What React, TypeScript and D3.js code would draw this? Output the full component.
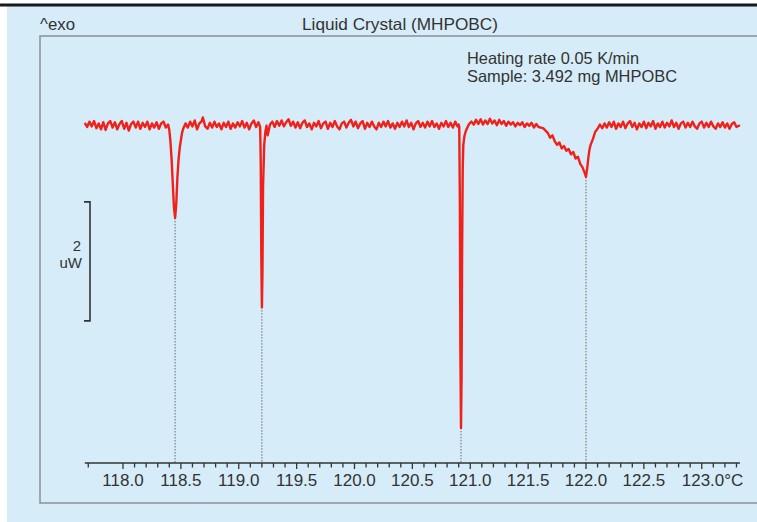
import React from "react";
import * as d3 from "d3";

const temps: number[] = [
  117.67, 117.69, 117.71, 117.73, 117.75, 117.77, 117.79, 117.81, 117.83, 117.85, 117.87, 117.89, 117.91, 117.93, 117.95, 117.97, 117.99,
  118.01, 118.03, 118.05, 118.07, 118.09, 118.11, 118.13, 118.15, 118.17, 118.19, 118.21, 118.23, 118.25, 118.27, 118.29, 118.31, 118.33,
  118.35, 118.37, 118.39, 118.40, 118.41, 118.42, 118.43, 118.44, 118.45, 118.46, 118.47, 118.48, 118.49, 118.50, 118.51, 118.52, 118.54,
  118.56, 118.58, 118.60, 118.62, 118.64, 118.66, 118.68, 118.69, 118.71, 118.73, 118.75, 118.77, 118.79, 118.81, 118.83, 118.85, 118.87,
  118.89, 118.91, 118.93, 118.95, 118.97, 118.99, 119.01, 119.03, 119.05, 119.07, 119.09, 119.11, 119.13, 119.15, 119.17, 119.185, 119.19,
  119.195, 119.20, 119.205, 119.21, 119.22, 119.23, 119.24, 119.25, 119.26, 119.27, 119.29, 119.31, 119.33, 119.35, 119.37, 119.39, 119.41,
  119.43, 119.45, 119.47, 119.49, 119.51, 119.53, 119.55, 119.57, 119.59, 119.61, 119.63, 119.65, 119.67, 119.69, 119.71, 119.73, 119.75,
  119.77, 119.79, 119.81, 119.83, 119.85, 119.87, 119.89, 119.91, 119.93, 119.95, 119.97, 119.99, 120.01, 120.03, 120.05, 120.07, 120.09,
  120.11, 120.13, 120.15, 120.17, 120.19, 120.21, 120.23, 120.25, 120.27, 120.29, 120.31, 120.33, 120.35, 120.37, 120.39, 120.41, 120.43,
  120.45, 120.47, 120.49, 120.51, 120.53, 120.55, 120.57, 120.59, 120.61, 120.63, 120.65, 120.67, 120.69, 120.71, 120.73, 120.75, 120.77,
  120.79, 120.81, 120.83, 120.85, 120.87, 120.89, 120.90, 120.905, 120.91, 120.915, 120.92, 120.925, 120.93, 120.935, 120.94, 120.95,
  120.96, 120.97, 120.99, 121.01, 121.03, 121.05, 121.07, 121.09, 121.11, 121.13, 121.15, 121.17, 121.19, 121.21, 121.23, 121.25, 121.27,
  121.29, 121.31, 121.33, 121.35, 121.37, 121.39, 121.41, 121.43, 121.45, 121.47, 121.49, 121.51, 121.53, 121.55, 121.57, 121.59, 121.61,
  121.63, 121.65, 121.67, 121.69, 121.71, 121.73, 121.75, 121.77, 121.79, 121.81, 121.83, 121.85, 121.87, 121.89, 121.91, 121.93, 121.95,
  121.97, 121.99, 122.00, 122.01, 122.02, 122.03, 122.04, 122.06, 122.08, 122.10, 122.12, 122.14, 122.16, 122.18, 122.20, 122.22, 122.24,
  122.26, 122.28, 122.30, 122.32, 122.34, 122.36, 122.38, 122.40, 122.42, 122.44, 122.46, 122.48, 122.50, 122.52, 122.54, 122.56, 122.58,
  122.60, 122.62, 122.64, 122.66, 122.68, 122.70, 122.72, 122.74, 122.76, 122.78, 122.80, 122.82, 122.84, 122.86, 122.88, 122.90, 122.92,
  122.94, 122.96, 122.98, 123.00, 123.02, 123.04, 123.06, 123.08, 123.10, 123.12, 123.14, 123.16, 123.18, 123.20, 123.22, 123.24, 123.26,
  123.28, 123.30, 123.33,
];

const heatFlow: number[] = [
  0.07, 0.00, 0.09, 0.01, 0.10, -0.02, 0.06, -0.04, 0.08, -0.05, 0.06, 0.10, -0.01, 0.08, -0.04, 0.05, 0.10,
  -0.03, 0.07, -0.06, 0.05, 0.09, -0.01, 0.09, -0.03, 0.07, 0.00, 0.09, -0.04, 0.06, -0.01, 0.08, -0.03, 0.06,
  0.09, -0.01, 0.04, -0.05, -0.25, -0.55, -0.95, -1.35, -1.53, -1.30, -0.85, -0.55, -0.35, -0.22, -0.10, -0.03, 0.06,
  -0.01, 0.09, 0.01, 0.11, -0.04, 0.06, 0.10, 0.16, 0.01, -0.03, 0.07, -0.01, 0.09, 0.00, 0.06, -0.04, 0.07,
  0.00, 0.09, -0.03, 0.06, -0.01, 0.08, 0.01, 0.10, -0.01, 0.07, -0.04, 0.06, 0.11, 0.00, 0.08, 0.00, -0.60,
  -2.20, -3.03, -2.40, -1.00, -0.30, -0.08, 0.02, -0.14, -0.05, 0.04, 0.09, 0.00, 0.10, 0.02, 0.11, 0.01, 0.08,
  0.13, 0.02, 0.09, -0.01, 0.08, -0.02, 0.07, 0.11, 0.00, 0.06, -0.04, 0.07, 0.01, 0.10, -0.02, 0.06, 0.09,
  -0.03, 0.07, 0.00, 0.10, 0.01, -0.04, 0.06, 0.09, -0.01, 0.07, 0.12, 0.01, 0.09, -0.02, 0.06, 0.10, -0.03,
  0.07, 0.00, 0.09, 0.01, -0.04, 0.07, 0.00, 0.09, 0.01, 0.10, -0.01, 0.06, -0.03, 0.07, 0.00, 0.09, 0.01,
  0.11, 0.00, 0.07, -0.04, 0.06, 0.10, 0.00, 0.07, -0.01, 0.09, 0.01, 0.10, 0.00, 0.06, -0.03, 0.07, 0.01,
  0.10, 0.00, 0.07, -0.01, 0.09, 0.01, 0.04, 0.00, -1.20, -3.80, -5.06, -4.20, -2.00, -0.70, -0.30, -0.15,
  -0.08, -0.03, 0.05, 0.09, 0.04, 0.12, 0.05, 0.13, 0.04, 0.11, 0.05, 0.14, 0.06, 0.11, 0.03, 0.12, 0.05,
  0.10, 0.02, 0.09, 0.04, 0.08, 0.01, 0.07, 0.03, 0.08, 0.00, 0.06, 0.02, 0.07, -0.01, 0.05, 0.00, -0.01,
  -0.02, -0.06, -0.10, -0.18, -0.14, -0.24, -0.30, -0.26, -0.36, -0.32, -0.40, -0.37, -0.46, -0.42, -0.53, -0.50, -0.62,
  -0.68, -0.78, -0.84, -0.70, -0.52, -0.38, -0.30, -0.20, -0.08, -0.03, 0.04, -0.02, 0.06, -0.01, 0.08, 0.00, 0.09,
  -0.03, 0.06, 0.00, 0.09, -0.02, 0.06, 0.10, 0.00, 0.07, -0.04, 0.06, 0.00, 0.09, -0.02, 0.07, 0.01, 0.10,
  -0.03, 0.06, 0.00, 0.09, -0.01, 0.07, 0.01, 0.11, 0.00, 0.07, -0.03, 0.06, 0.09, -0.01, 0.07, 0.00, 0.09,
  0.01, -0.03, 0.06, 0.09, -0.01, 0.07, 0.00, 0.09, 0.01, -0.03, 0.06, 0.00, 0.08, -0.01, 0.06, -0.03, 0.05,
  0.08, 0.00, 0.03,
];

// peak minima marked with dotted drop lines
const peakTemps: number[] = [118.45, 119.2, 120.92, 122.0];
const peakFlows: number[] = [-1.53, -3.03, -5.06, -0.84];

const tickLabels: number[] = [118.0, 118.5, 119.0, 119.5, 120.0, 120.5, 121.0, 121.5, 122.0, 122.5, 123.0];

const titleText = "Liquid Crystal (MHPOBC)";
const infoLines: string[] = ["Heating rate 0.05 K/min", "Sample: 3.492 mg MHPOBC"];
const scaleBarValue = 2; // uW
const scaleBarTop = -1.26; // uW, position of the scale bar

const W = 757;
const H = 522;
const FONT = "'Liberation Sans', Arial, Helvetica, sans-serif";
const TEXT = "#333";

export default function App() {
  const x = d3.scaleLinear().domain([118.0, 123.0]).range([123, 701.75]);
  const y = d3.scaleLinear().domain([-5.65, 1.53]).range([463, 36]);
  const axisStart = 117.67;
  const axisEnd = 123.33;

  const pts = temps.map((t, i) => [t, heatFlow[i]] as [number, number]);
  const line = d3
    .line<[number, number]>()
    .x((d) => x(d[0]))
    .y((d) => y(d[1]));

  const minorTicks = d3.range(118, 123.31, 0.1).map((v) => Math.round(v * 10) / 10);
  const extraTicks = [117.7];
  const allTicks = [...extraTicks, ...minorTicks];

  const axisY = 463;

  return (
    <svg
      width={W}
      height={H}
      style={{ position: "absolute", left: 0, top: 0, display: "block" }}
      fontFamily={FONT}
    >
      <rect x={0} y={0} width={W} height={H} fill="#ffffff" />
      <rect x={7} y={6} width={W - 7} height={H - 6} fill="#d6ecf8" />
      <line x1={0} x2={W} y1={5} y2={5} stroke="#1a1a1a" strokeWidth={3} />

      {/* frame */}
      <path
        d={`M${W},36 L40,36 L40,503 L${W},503`}
        fill="none"
        stroke="#8a9096"
        strokeWidth={1.5}
      />

      {/* titles */}
      <text x={40} y={30} fontSize={16.5} fill={TEXT} textLength={35} lengthAdjust="spacingAndGlyphs">
        ^exo
      </text>
      <text x={400} y={30} fontSize={16.5} fill={TEXT} textAnchor="middle" textLength={196} lengthAdjust="spacingAndGlyphs">
        {titleText}
      </text>
      <text x={467} y={64} fontSize={16.5} fill={TEXT} textLength={172} lengthAdjust="spacingAndGlyphs">
        {infoLines[0]}
      </text>
      <text x={467} y={82} fontSize={16.5} fill={TEXT} textLength={210} lengthAdjust="spacingAndGlyphs">
        {infoLines[1]}
      </text>

      {/* dotted drop lines */}
      {peakTemps.map((t, i) => (
        <line
          key={i}
          x1={x(t)}
          x2={x(t)}
          y1={y(peakFlows[i])}
          y2={axisY}
          stroke="#6b6b6b"
          strokeWidth={1}
          strokeDasharray="1.5,1.5"
        />
      ))}

      {/* curve */}
      <path d={line(pts) || ""} fill="none" stroke="#f0201a" strokeWidth={2.4} strokeLinejoin="round" />

      {/* scale bar */}
      <path
        d={`M84,${y(scaleBarTop)} L90,${y(scaleBarTop)} L90,${y(scaleBarTop - scaleBarValue)} L84,${y(scaleBarTop - scaleBarValue)}`}
        fill="none"
        stroke="#333"
        strokeWidth={1.6}
      />
      <text x={81} y={251} fontSize={15} fill={TEXT} textAnchor="end">
        {scaleBarValue}
      </text>
      <text x={82} y={268} fontSize={15} fill={TEXT} textAnchor="end">
        uW
      </text>

      {/* x axis */}
      <line x1={x(axisStart)} x2={x(axisEnd)} y1={axisY} y2={axisY} stroke="#333" strokeWidth={1.6} />
      {allTicks.map((t, i) => {
        const major = Math.abs(t * 2 - Math.round(t * 2)) < 1e-6;
        return (
          <line
            key={i}
            x1={x(t)}
            x2={x(t)}
            y1={axisY}
            y2={axisY + (major ? 6 : 4.5)}
            stroke="#333"
            strokeWidth={1.3}
          />
        );
      })}
      {tickLabels.map((t, i) => {
        const last = i === tickLabels.length - 1;
        return (
          <text
            key={i}
            x={last ? x(t) - 20 : x(t)}
            y={486}
            fontSize={17}
            fill={TEXT}
            textAnchor={last ? "start" : "middle"}
          >
            {t.toFixed(1)}
            {last ? "°C" : ""}
          </text>
        );
      })}
    </svg>
  );
}
